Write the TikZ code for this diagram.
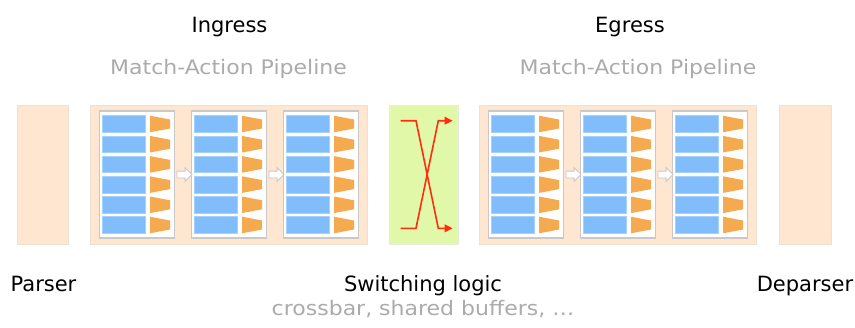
\documentclass[tikz,border=0pt]{standalone}
\usepackage{fontspec}
\setmainfont{DejaVu Sans}
\newfontfamily\subfont[FakeStretch=1.1]{DejaVu Sans}
\usetikzlibrary{arrows.meta,shapes.arrows,calc}
\definecolor{peach}{HTML}{FEE6D1}
\definecolor{peachline}{HTML}{F0E0D2}
\definecolor{switchgreen}{HTML}{E1F8A9}
\definecolor{switchline}{HTML}{E8EDDF}
\definecolor{stageline}{HTML}{C9C9C9}
\definecolor{tblblue}{HTML}{80BDFA}
\definecolor{blueline}{HTML}{A6D1FB}
\definecolor{actorange}{HTML}{F6AA50}
\definecolor{crossred}{HTML}{FF2D0D}
\definecolor{subgray}{HTML}{ABABAB}
\begin{document}
\begin{tikzpicture}[x=1pt,y=-1pt,
unit/.style={draw=peachline,line width=1pt,fill=peach,minimum height=139pt,inner sep=0pt},
stage/.style={draw=stageline,line width=1.2pt,fill=white,minimum width=75pt,minimum height=127pt,inner sep=0pt},
tbl/.style={draw=blueline,line width=.6pt,fill=tblblue,minimum width=43pt,minimum height=16.6pt,inner sep=0pt,outer sep=0pt},
act/.style={fill=actorange},
flow/.style={shape=single arrow,draw=stageline,fill=white,line width=.8pt,minimum height=15pt,inner sep=3pt,single arrow head extend=3.5pt},
title/.style={font=\fontsize{21}{24}\selectfont,anchor=base},
sub/.style={font=\subfont\fontsize{20}{24}\selectfont,anchor=base,text=subgray},
cross/.style={draw=crossred,line width=1.6pt,-{Triangle[length=8pt,width=7.5pt]}}
]
\useasboundingbox (0,0) rectangle (855,327);
\node[unit,minimum width=51pt] (parser) at (42.8,174.5) {};
\node[unit,minimum width=277pt] (ingress) at (228.5,174.5) {};
\node[unit,minimum width=69.4pt,draw=switchline,fill=switchgreen] (switch) at (424,174.5) {};
\node[unit,minimum width=277pt] (egress) at (617.5,174.5) {};
\node[unit,minimum width=51.7pt] (deparser) at (805.2,174.5) {};
\foreach \p/\x in {i/136.8,e/525.8}{
  \foreach \s in {1,2,3}{
    \node[stage] (\p\s) at ({\x+92*(\s-1)},174.5) {};
    \foreach \r in {1,...,6}{
      \node[tbl] (\p\s-\r) at ({\x+92*(\s-1)-12.6},{124+20.2*(\r-1)}) {};
      \fill[act] ([xshift=4.3pt]\p\s-\r.north east) -- ++(20,3.8) -- ++(0,9) -- ([xshift=4.3pt]\p\s-\r.south east) -- cycle;
    }
  }
  \foreach \a/\b in {1/2,2/3}
    \node[flow] (\p\a\b) at ($(\p\a.east)!.5!(\p\b.west)$) {};
}
\coordinate (intop) at ($(switch.center)+(-23.3,-53.8)$);
\coordinate (inbot) at ($(switch.center)+(-23.3,53.8)$);
\coordinate (outtop) at ($(switch.center)+(28.7,-53.8)$);
\coordinate (outbot) at ($(switch.center)+(28.7,53.8)$);
\draw[cross] (intop) -- ++(15.3,0) -- ([xshift=-14.4pt]outbot) -- (outbot);
\draw[cross] (inbot) -- ++(15.3,0) -- ([xshift=-14.4pt]outtop) -- (outtop);
\node[title] (ingresslbl) at (229.5,32.7) {Ingress};
\node[sub] (ingresssub) at (228.5,74) {Match-Action Pipeline};
\node[title] (egresslbl) at (630,32.7) {Egress};
\node[sub] (egresssub) at (638,74) {Match-Action Pipeline};
\node[title] (parserlbl) at (43.5,291.7) {Parser};
\node[title] (switchlbl) at (423,291.7) {Switching logic};
\node[title] (deparserlbl) at (805,291.7) {Deparser};
\node[sub] (switchsub) at (423,315) {crossbar, shared buffers, …};
\end{tikzpicture}
\end{document}
